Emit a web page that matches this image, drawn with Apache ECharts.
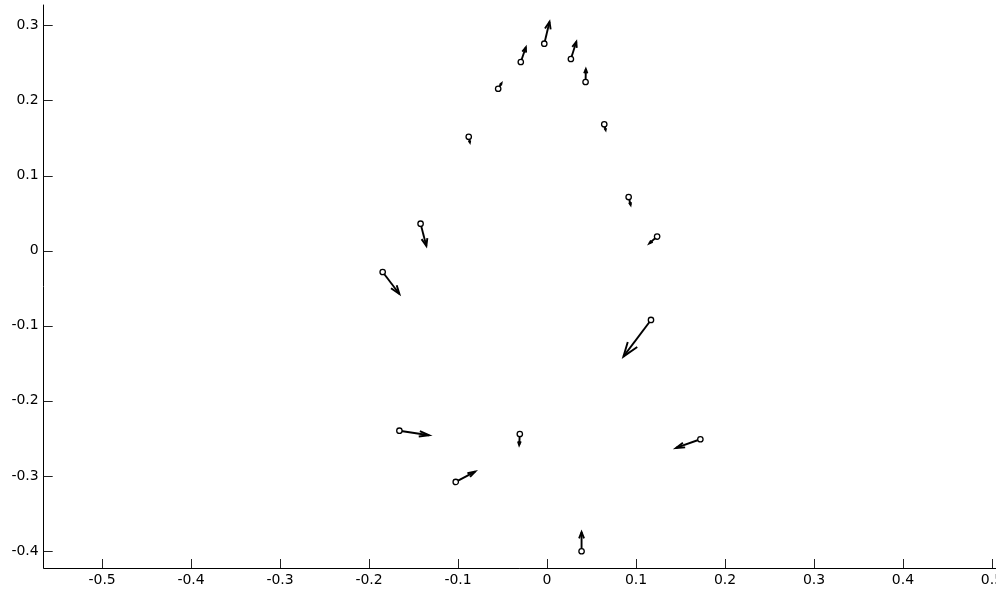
<!DOCTYPE html>
<html>
<head>
<meta charset="utf-8">
<script src="https://cdn.jsdelivr.net/npm/echarts@6/dist/echarts.min.js"></script>
<style>
  html, body { margin: 0; padding: 0; background: #fff; }
  #chart { width: 996px; height: 590px; }
</style>
</head>
<body>
<div id="chart"></div>
<script>
// Point positions (open circles) and their velocity vectors (arrows)
const xs = [-0.0031, -0.0295, 0.0268, 0.0433, -0.0549, -0.0880, 0.0643, 0.0917, 0.1237, -0.1421,
            -0.1847, 0.1168, -0.1659, -0.0306, 0.1723, -0.1026, 0.0388];
const ys = [0.2760, 0.2516, 0.2556, 0.2250, 0.2160, 0.1520, 0.1686, 0.0717, 0.0190, 0.0361,
            -0.0283, -0.0922, -0.2398, -0.2442, -0.2512, -0.3081, -0.4005];
const us = [0.0059, 0.0057, 0.0061, 0.0003, 0.0037, 0.0013, 0.0015, 0.0022, -0.0088, 0.0065,
            0.0188, -0.0310, 0.0334, -0.0007, -0.0274, 0.0218, 0.0000];
const vs = [0.0293, 0.0196, 0.0231, 0.0173, 0.0072, -0.0077, -0.0076, -0.0107, -0.0091, -0.0297,
            -0.0293, -0.0489, -0.0061, -0.0147, -0.0116, 0.0137, 0.0257];

// Tick positions for both axes
const xTicks = [-0.5, -0.4, -0.3, -0.2, -0.1, 0, 0.1, 0.2, 0.3, 0.4, 0.5];
const yTicks = [-0.4, -0.3, -0.2, -0.1, 0, 0.1, 0.2, 0.3];

const quiverData = xs.map((x, i) => [x, ys[i], us[i], vs[i]]);

// Arrow head proportions (relative to arrow length)
const ALPHA = 0.33, BETA = 0.33;

function renderArrow(params, api) {
  const x = api.value(0), y = api.value(1), u = api.value(2), v = api.value(3);
  const p0 = api.coord([x, y]);
  const tip = [x + u, y + v];
  const p1 = api.coord(tip);
  const h1 = api.coord([tip[0] - ALPHA * (u + BETA * v), tip[1] - ALPHA * (v - BETA * u)]);
  const h2 = api.coord([tip[0] - ALPHA * (u - BETA * v), tip[1] - ALPHA * (v + BETA * u)]);
  const stroke = { stroke: '#000', lineWidth: 1.9, fill: null, lineJoin: 'miter', lineCap: 'butt' };
  return {
    type: 'group',
    children: [
      { type: 'line', shape: { x1: p0[0], y1: p0[1], x2: p1[0], y2: p1[1] }, style: stroke },
      { type: 'polyline', shape: { points: [h1, p1, h2] }, style: stroke },
      { type: 'circle', shape: { cx: p0[0], cy: p0[1], r: 2.7 },
        style: { fill: '#fff', stroke: '#000', lineWidth: 1.3 } }
    ]
  };
}

const fmt = v => String(+(+v).toFixed(1));
const labelFont = { fontFamily: 'DejaVu Sans', fontSize: 14, color: '#000' };

const chart = echarts.init(document.getElementById('chart'), null, { renderer: 'canvas' });
chart.setOption({
  animation: false,
  backgroundColor: '#fff',
  grid: {
    left: 43.7, right: 0, top: 5, bottom: 22,
    containLabel: false, outerBoundsMode: 'none'
  },
  xAxis: {
    type: 'value',
    min: -0.5656, max: 0.5045,
    axisLine: { onZero: false, lineStyle: { color: '#000', width: 1 } },
    axisTick: { inside: true, length: 9, customValues: xTicks, lineStyle: { color: '#222', width: 1 } },
    axisLabel: Object.assign({ customValues: xTicks, formatter: fmt, margin: 5, hideOverlap: false }, labelFont),
    splitLine: { show: false }
  },
  yAxis: {
    type: 'value',
    min: -0.4228, max: 0.3276,
    axisLine: { onZero: false, lineStyle: { color: '#000', width: 1 } },
    axisTick: { inside: true, length: 9, customValues: yTicks, lineStyle: { color: '#222', width: 1 } },
    axisLabel: Object.assign({ customValues: yTicks, formatter: fmt, margin: 5 }, labelFont),
    splitLine: { show: false }
  },
  series: [{
    type: 'custom',
    renderItem: renderArrow,
    encode: { x: 0, y: 1 },
    data: quiverData,
    clip: false
  }]
});
</script>
</body>
</html>
